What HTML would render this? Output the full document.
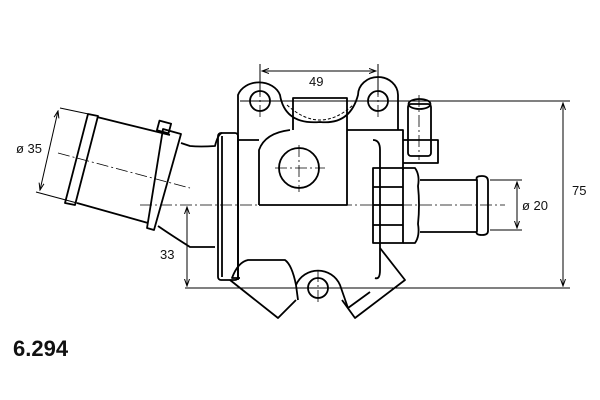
<!DOCTYPE html>
<html><head><style>
html,body{margin:0;padding:0;background:#fff;width:600px;height:400px;overflow:hidden}
svg{display:block}
text{font-family:"Liberation Sans",sans-serif;fill:#111}
</style></head><body>
<svg width="600" height="400" viewBox="0 0 600 400" xmlns="http://www.w3.org/2000/svg">
<defs><marker id="a" markerWidth="8" markerHeight="8" refX="7" refY="4" orient="auto-start-reverse"><path d="M0,1.5 L7,4 L0,6.5" fill="none" stroke="#000" stroke-width="1"/></marker></defs>
<g fill="none" stroke="#000" stroke-width="1">
<line x1="260" y1="64" x2="260" y2="95"/><line x1="378" y1="64" x2="378" y2="95"/>
<line x1="240" y1="101" x2="570" y2="101"/>
<line x1="185" y1="288" x2="570" y2="288"/>
<line x1="490" y1="180" x2="522" y2="180"/><line x1="490" y1="230" x2="522" y2="230"/>
<line x1="60" y1="108" x2="98" y2="116"/><line x1="36" y1="192" x2="77" y2="203"/>
<line x1="262" y1="71" x2="376" y2="71" marker-start="url(#a)" marker-end="url(#a)"/>
<line x1="563" y1="103" x2="563" y2="286" marker-start="url(#a)" marker-end="url(#a)"/>
<line x1="517" y1="182" x2="517" y2="228" marker-start="url(#a)" marker-end="url(#a)"/>
<line x1="187" y1="207" x2="187" y2="286" marker-start="url(#a)" marker-end="url(#a)"/>
<line x1="58" y1="111" x2="40" y2="190" marker-start="url(#a)" marker-end="url(#a)"/>
<path d="M287,105 Q320,135 353,105" stroke-dasharray="3,2"/>
</g>
<g fill="none" stroke="#000" stroke-width="0.8" stroke-dasharray="12,3,2,3">
<line x1="140" y1="205" x2="505" y2="205"/>
<line x1="58" y1="153" x2="190" y2="188"/>
<line x1="299" y1="145" x2="299" y2="192"/><line x1="275" y1="168" x2="325" y2="168"/>
<line x1="260" y1="85" x2="260" y2="120"/><line x1="378" y1="85" x2="378" y2="120"/>
<line x1="419" y1="95" x2="419" y2="160"/>
<line x1="318" y1="270" x2="318" y2="305"/>
</g>
<g fill="none" stroke="#000" stroke-width="1.8" stroke-linejoin="round">
<path d="M97,117 L170,135 M77,203 L148,223"/>
<path d="M88,114 L98,116 L75,205 L65,203 Z"/>
<path d="M163,129 L181,134 L154,230 L147,228 Z"/>
<rect x="158" y="122" width="12" height="10" transform="rotate(15 164 127)"/>
<path d="M181,143 L190,146 Q200,147 215,146 Q218,134 222,133 M158,226 Q168,233 190,247 L215,247"/>
<rect x="218" y="133" width="20" height="147" rx="3"/>
<line x1="222" y1="136" x2="222" y2="277"/>
<path d="M238,140 L238,95 A22,18 0 0 1 280,95 Q285,125 320,122 Q350,125 358,95 A20,18 0 0 1 398,95 L398,130"/>
<circle cx="260" cy="101" r="10"/><circle cx="378" cy="101" r="10"/>
<path d="M293,130 L293,98 L347,98 L347,130"/>
<path d="M238,140 L259,140 M347,130 L403,130 L403,170"/>
<path d="M259,205 L259,150 Q265,133 290,130 M259,205 L347,205 L347,130"/>
<circle cx="299" cy="168" r="20"/>
<path d="M238,140 L238,280 M373,140 Q380,140 380,150 L380,270 Q380,280 375,278"/>
<path d="M373,168 L373,243 L403,243 L403,168 Z"/>
<line x1="373" y1="187" x2="403" y2="187"/><line x1="373" y1="205" x2="403" y2="205"/><line x1="373" y1="225" x2="403" y2="225"/>
<path d="M403,168 L415,168 Q420,175 418,186 Q420,205 418,224 Q420,236 415,243 L403,243"/>
<path d="M420,180 L477,180 M420,232 L477,232"/>
<path d="M477,180 Q475,176 482,176 Q488,176 488,181 L488,231 Q488,235 482,235 Q475,235 477,231 Z"/>
<rect x="408" y="104" width="23" height="52" rx="3"/>
<ellipse cx="419.5" cy="104" rx="11" ry="5"/>
<path d="M403,140 L438,140 L438,163 L403,163"/>
<path d="M240,278 L232,278 Q238,262 248,260 L285,260 Q292,265 296,285 L298,300"/>
<path d="M230,280 L278,318 L296,300"/>
<path d="M296,285 A24,24 0 0 1 340,285 L348,308 L370,292"/>
<path d="M380,248 L405,280 L355,318 L342,300"/>
<circle cx="318" cy="288" r="10"/>
</g>
<g font-size="13">
<text x="309" y="86">49</text>
<text x="572" y="195">75</text>
<text x="522" y="210">ø 20</text>
<text x="16" y="153">ø 35</text>
<text x="160" y="259">33</text>
</g>
<text x="13" y="356" font-size="22" font-weight="bold">6.294</text>
</svg>
</body></html>
